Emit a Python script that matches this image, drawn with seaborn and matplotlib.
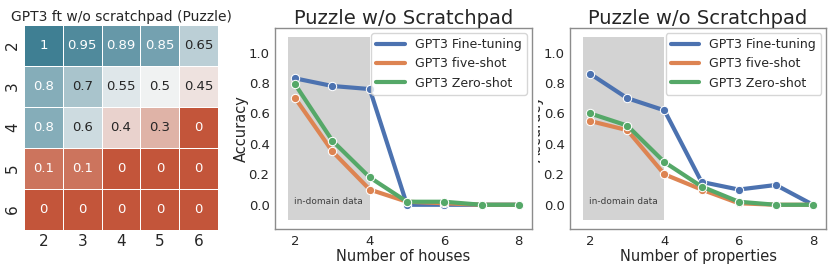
import numpy as np
import pandas as pd
import matplotlib
matplotlib.use("Agg")
import matplotlib.pyplot as plt
import seaborn as sns
from matplotlib.transforms import Bbox, TransformedBbox

# heatmap data: rows / cols = 2..6
hm_rows = [2, 3, 4, 5, 6]
hm_cols = [2, 3, 4, 5, 6]
hm_vals = [
    [1, 0.95, 0.89, 0.85, 0.65],
    [0.8, 0.7, 0.55, 0.5, 0.45],
    [0.8, 0.6, 0.4, 0.3, 0],
    [0.1, 0.1, 0, 0, 0],
    [0, 0, 0, 0, 0],
]

x_vals = [2, 3, 4, 5, 6, 7, 8]
houses_ft = [0.83, 0.78, 0.76, 0.0, 0.0, 0.0, 0.0]
houses_five = [0.70, 0.35, 0.10, 0.02, 0.01, 0.0, 0.0]
houses_zero = [0.79, 0.42, 0.18, 0.02, 0.02, 0.0, 0.0]
props_ft = [0.86, 0.70, 0.62, 0.15, 0.10, 0.13, 0.0]
props_five = [0.55, 0.49, 0.20, 0.10, 0.01, 0.0, 0.0]
props_zero = [0.60, 0.52, 0.28, 0.12, 0.02, 0.0, 0.0]
model_names = ["GPT3 Fine-tuning", "GPT3 five-shot", "GPT3 Zero-shot"]

sns.set_theme(style="white", rc={"axes.edgecolor": "0.55", "axes.linewidth": 1.0})

fig = plt.figure(figsize=(8.31, 2.68), dpi=100)
ax_hm = fig.add_axes([0.0289, 0.1418, 0.2335, 0.765])
ax1 = fig.add_axes([0.331, 0.145, 0.309, 0.75])
ax2 = fig.add_axes([0.686, 0.145, 0.308, 0.75])

# heatmap
hm_df = pd.DataFrame(hm_vals, index=hm_rows, columns=hm_cols)
cmap = sns.diverging_palette(20, 220, as_cmap=True)
sns.heatmap(hm_df, ax=ax_hm, cmap=cmap, vmin=0, vmax=1, center=0.5, annot=True,
            cbar=False, linewidths=0.5, linecolor="white", annot_kws={"size": 9.5})
ax_hm.set_title("GPT3 ft w/o scratchpad (Puzzle)", fontsize=10, pad=3)
ax_hm.tick_params(axis="both", labelsize=11, length=0, pad=3)
ax_hm.set_yticklabels(hm_rows, rotation=90, va="center")


def line_panel(ax, ft, five, zero, xlabel):
    df = pd.DataFrame({
        "x": x_vals * 3,
        "acc": ft + five + zero,
        "model": sum([[m] * len(x_vals) for m in model_names], []),
    })
    ax.fill_between([1.8, 4.0], -0.1, 1.1, color="lightgray", lw=0, zorder=0)
    ax.text(2.9, 0.02, "in-domain data", fontsize=6.5, ha="center", va="center", color="0.25")
    sns.lineplot(data=df, x="x", y="acc", hue="model", marker="o", linewidth=3,
                 markersize=6, palette="deep", ax=ax, legend=False)
    ax.set_xlim(1.46, 8.35)
    ax.set_ylim(-0.16, 1.16)
    ax.set_xticks([2, 4, 6, 8])
    ax.set_yticks([0.0, 0.2, 0.4, 0.6, 0.8, 1.0])
    ax.set_yticklabels(["0.0", "0.2", "0.4", "0.6", "0.8", "1.0"])
    ax.tick_params(labelsize=9.5, length=0, pad=4)
    ax.set_title("Puzzle w/o Scratchpad", fontsize=14, pad=3)
    ax.set_xlabel(xlabel, fontsize=10.5, labelpad=1)
    ax.set_ylabel("Accuracy", fontsize=10.5, labelpad=0)
    handles = [plt.Line2D([], [], color=c, lw=3) for c in sns.color_palette("deep", 3)]
    ax.legend(handles, model_names, loc="upper right", fontsize=9, handlelength=2.3,
              borderaxespad=0.4)


line_panel(ax1, houses_ft, houses_five, houses_zero, "Number of houses")
line_panel(ax2, props_ft, props_five, props_zero, "Number of properties")

# third panel's y label is partly hidden behind the middle panel
clip = TransformedBbox(Bbox([[538 / 831, 0], [1, 1]]), fig.transFigure)
ax2.yaxis.label.set_clip_box(clip)
ax2.yaxis.label.set_clip_on(True)

fig.savefig("out.png", dpi=100)
